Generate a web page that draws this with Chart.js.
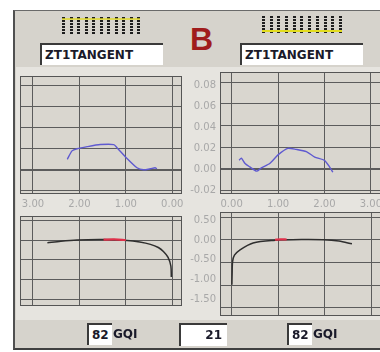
<!DOCTYPE html>
<html>
<head>
<meta charset="utf-8">
<script src="https://cdn.jsdelivr.net/npm/chart.js@4.4.0/dist/chart.umd.min.js"></script>
<style>
  html, body { margin: 0; padding: 0; background: #fff; width: 380px; height: 352px; overflow: hidden; position: relative; font-family: "DejaVu Sans", sans-serif; }
  .abs { position: absolute; }
  #panel { left: 13px; top: 10px; width: 380px; height: 337px; background: #d6d3cc; border-left: 2px solid #505050; border-top: 1px solid #6a6a6a; border-bottom: 2px solid #404040; }
  #plotzone { left: 16px; top: 67px; width: 370px; height: 253px; background: #e6e4df; }
  canvas { position: absolute; }
  .leds { position: absolute; height: 17px; display: flex; justify-content: space-between; }
  .leds span { width: 3px; height: 17px; background: repeating-linear-gradient(to bottom, #1e1e1e 0 2px, transparent 2px 3px); }
  .ledline { position: absolute; height: 2px; background: #e2dc1e; }
  .tbox { position: absolute; background: #fff; border-top: 2px solid #3a3a3a; border-left: 2px solid #3a3a3a; font-weight: bold; font-size: 12px; color: #1a1a2a; line-height: 20px; box-sizing: border-box; white-space: nowrap; }
  .unit { position: absolute; font-weight: bold; font-size: 12px; color: #1a1a2a; line-height: 20px; }
  #bigB { left: 190px; top: 21px; font: bold 32px "Liberation Sans", Arial, sans-serif; color: #a01c1c; line-height: 36px; }
</style>
</head>
<body>
<div id="panel" class="abs"></div>
<div id="plotzone" class="abs"></div>

<div class="leds" style="left:62px; top:17px; width:78px;" id="ledsL"></div>
<div class="ledline" style="left:62px; top:18px; width:78px; opacity:0.7;"></div>
<div class="leds" style="left:262px; top:16px; width:80px;" id="ledsR"></div>
<div class="ledline" style="left:262px; top:30px; width:80px;"></div>

<div id="bigB" class="abs">B</div>

<div class="tbox" style="left:40px; top:43px; width:123px; height:22px; padding-left:3px;">ZT1TANGENT</div>
<div class="tbox" style="left:240px; top:43px; width:123px; height:22px; padding-left:3px;">ZT1TANGENT</div>

<canvas id="cTL" width="206" height="148" style="left:14px; top:66px;"></canvas>
<canvas id="cTR" width="172" height="148" style="left:214px; top:66px;"></canvas>
<canvas id="cBL" width="206" height="110" style="left:14px; top:206px;"></canvas>
<canvas id="cBR" width="172" height="110" style="left:214px; top:206px;"></canvas>

<div class="tbox" style="left:87px; top:323px; width:25px; height:22px; padding-left:3px;">82</div>
<div class="unit" style="left:113px; top:324px;">GQI</div>
<div class="tbox" style="left:179px; top:323px; width:48px; height:23px; text-align:right; padding-right:5px;">21</div>
<div class="tbox" style="left:287px; top:323px; width:25px; height:22px; padding-left:3px;">82</div>
<div class="unit" style="left:313px; top:324px;">GQI</div>

<script>
/* ---- data ---- */
var xTicksLeft = [3, 2, 1, 0];
var xTicksRight = [0, 1, 2, 3];
var yTicksTop = [0.08, 0.06, 0.04, 0.02, 0.00, -0.02];
var yTicksBottom = [0.5, 0.0, -0.5, -1.0, -1.5];

// top left (x axis reversed)
var tlX = [2.26, 2.16, 2.05, 1.83, 1.55, 1.26, 1.19, 0.98, 0.76, 0.62, 0.47, 0.37, 0.33];
var tlY = [0.010, 0.018, 0.020, 0.022, 0.024, 0.024, 0.021, 0.011, 0.002, 0.000, 0.001, 0.002, 0.001];

// top right
var trX = [0.16, 0.21, 0.29, 0.39, 0.54, 0.64, 0.82, 1.00, 1.21, 1.39, 1.61, 1.79, 2.00, 2.11, 2.18];
var trY = [0.008, 0.010, 0.005, 0.002, -0.002, 0.001, 0.005, 0.013, 0.019, 0.018, 0.016, 0.011, 0.008, 0.002, -0.003];

// bottom left
var blX = [2.69, 2.40, 2.05, 1.48, 0.97, 0.70, 0.47, 0.30, 0.19, 0.09, 0.03, 0.02];
var blY = [-0.07, -0.03, 0.0, 0.01, -0.01, -0.05, -0.11, -0.19, -0.29, -0.44, -0.66, -0.94];
var blRedX = [1.48, 1.25, 1.00];
var blRedY = [0.01, 0.015, 0.0];

// bottom right
var brX = [0.005, 0.01, 0.02, 0.06, 0.18, 0.46, 0.89, 1.50, 1.96, 2.30, 2.58];
var brY = [-0.99, -0.75, -0.48, -0.34, -0.22, -0.07, -0.015, 0.005, 0.0, -0.03, -0.09];
var brRedX = [0.93, 1.05, 1.18];
var brRedY = [0.0, 0.01, 0.005];

/* ---- led strips ---- */
['ledsL', 'ledsR'].forEach(function(id) {
  var el = document.getElementById(id);
  for (var i = 0; i < 11; i++) el.appendChild(document.createElement('span'));
});

/* ---- charts ---- */
var gridColor = '#5c5c5c';
var tickColor = '#a8a8a8';
var tickFont = { family: "'DejaVu Sans', sans-serif", size: 10 };
var plotBg = '#d9d6cf';

var framePlugin = {
  id: 'frame',
  beforeDraw: function(chart) {
    var a = chart.chartArea, c = chart.ctx;
    c.save();
    c.fillStyle = plotBg;
    c.fillRect(a.left, a.top, a.right - a.left, a.bottom - a.top);
    c.restore();
  },
  afterDraw: function(chart) {
    var a = chart.chartArea, c = chart.ctx;
    c.save();
    c.strokeStyle = '#555';
    c.lineWidth = 1;
    c.strokeRect(a.left + 0.5, a.top + 0.5, a.right - a.left - 1, a.bottom - a.top - 1);
    c.restore();
  }
};

function pts(xs, ys) {
  return xs.map(function(x, i) { return { x: x, y: ys[i] }; });
}

function fmt(v) { return v.toFixed(2); }

function axisX(ticks, min, max, reverse, labels) {
  return {
    type: 'linear', min: min, max: max, reverse: reverse,
    afterBuildTicks: function(s) { s.ticks = ticks.map(function(v) { return { value: v }; }); },
    afterFit: function(s) { s.height = labels ? 20 : 0; },
    border: { display: false },
    grid: { color: gridColor, lineWidth: 1, drawTicks: false },
    ticks: { display: labels, color: tickColor, font: tickFont, padding: 4, maxRotation: 0, callback: fmt }
  };
}

function axisY(ticks, min, max, labels, zeroBold) {
  return {
    type: 'linear', position: 'right', min: min, max: max,
    afterBuildTicks: function(s) { s.ticks = ticks.map(function(v) { return { value: v }; }); },
    afterFit: function(s) { s.width = labels ? 34 : 0; },
    border: { display: false },
    grid: {
      color: gridColor, drawTicks: false,
      lineWidth: function(c) { return (zeroBold && c.tick && c.tick.value === 0) ? 2 : 1; }
    },
    ticks: { display: labels, color: tickColor, font: tickFont, padding: 4, crossAlign: 'far', callback: fmt }
  };
}

function makeChart(id, datasets, xAxis, yAxis, padRight) {
  return new Chart(document.getElementById(id), {
    type: 'scatter',
    data: { datasets: datasets },
    options: {
      responsive: false, animation: false, devicePixelRatio: 1,
      layout: { padding: { left: 6, top: 6, right: padRight, bottom: 0 } },
      plugins: { legend: { display: false }, tooltip: { enabled: false } },
      scales: { x: xAxis, y: yAxis }
    },
    plugins: [framePlugin]
  });
}

function line(xs, ys, color, width, tension) {
  return { data: pts(xs, ys), showLine: true, borderColor: color, borderWidth: width, pointRadius: 0, tension: tension };
}

makeChart('cTL', [line(tlX, tlY, '#5f5ad0', 1.4, 0.2)],
  axisX(xTicksLeft, -0.21, 3.28, true, true),
  axisY(yTicksTop, -0.023, 0.0892, true, true), 4);

makeChart('cTR', [line(trX, trY, '#5f5ad0', 1.4, 0.2)],
  axisX(xTicksRight, -0.25, 3.31, false, true),
  axisY(yTicksTop, -0.023, 0.0892, false, true), 0);

makeChart('cBL', [line(blRedX, blRedY, '#e0304a', 2.2, 0.3), line(blX, blY, '#2e2e2e', 1.5, 0.3)],
  axisX(xTicksLeft, -0.21, 3.28, true, false),
  axisY(yTicksBottom, -1.676, 0.61, true, false), 4);

makeChart('cBR', [line(brRedX, brRedY, '#e0304a', 2.2, 0.3), line(brX, brY, '#2e2e2e', 1.5, 0.3)],
  axisX(xTicksRight, -0.25, 3.31, false, false),
  axisY(yTicksBottom, -1.676, 0.61, false, false), 0);
</script>
</body>
</html>
